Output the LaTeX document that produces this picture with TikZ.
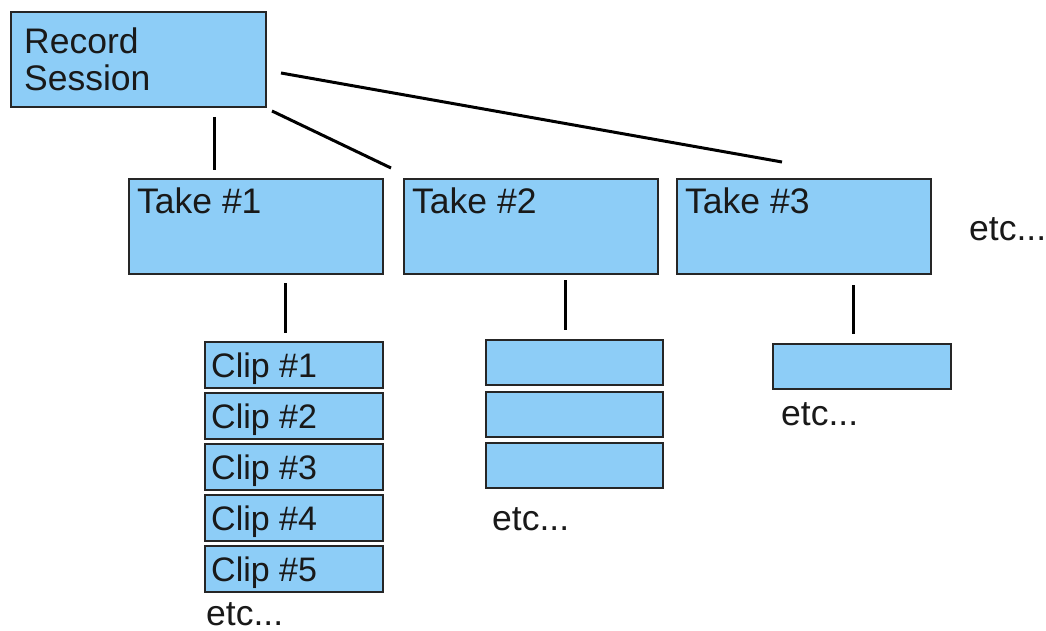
\documentclass[tikz,border=0pt]{standalone}
\usepackage{fontspec}
\setmainfont{Liberation Sans}
\begin{document}
\begin{tikzpicture}[x=1pt,y=-1pt,
  box/.style={draw=black!85,line width=1.6pt,fill=boxblue,inner sep=0pt,anchor=north west},
  lbl/.style={anchor=base west,inner sep=0pt,font=\fontsize{35.5}{38}\selectfont,text=black!90},
  clbl/.style={lbl,font=\fontsize{34}{38}\selectfont},
  conn/.style={line width=3pt,black}]
\definecolor{boxblue}{HTML}{8DCDF7}
\useasboundingbox (0,0) rectangle (1046,631);
% boxes
\node[box,minimum width=255pt,minimum height=95pt] (rs) at (10,11) {};
\node[box,minimum width=254pt,minimum height=95pt] (t1) at (128,178) {};
\node[box,minimum width=254pt,minimum height=95pt] (t2) at (403,178) {};
\node[box,minimum width=254pt,minimum height=95pt] (t3) at (676,178) {};
\foreach \n/\y in {1/341,2/392,3/443,4/494,5/545}
  \node[box,minimum width=178pt,minimum height=46pt] (c\n) at (204,\y) {};
\foreach \n/\y in {1/339,2/391,3/442}
  \node[box,minimum width=177pt,minimum height=45pt] (d\n) at (485,\y) {};
\node[box,minimum width=178pt,minimum height=45pt] (e1) at (772,343) {};
% texts
\node[lbl] (rst1) at (24,54) {Record};
\node[lbl] (rst2) at (24,91) {Session};
\node[lbl] (t1t) at (137,214) {Take \#1};
\node[lbl] (t2t) at (412,214) {Take \#2};
\node[lbl] (t3t) at (685,214) {Take \#3};
\foreach \n/\y in {1/377,2/428,3/479,4/530,5/581}
  \node[clbl] (c\n t) at (211,\y) {Clip \#\n};
\node[lbl] (etc0) at (969,240) {etc...};
\node[lbl] (etc1) at (206,625) {etc...};
\node[lbl] (etc2) at (492,530) {etc...};
\node[lbl] (etc3) at (781,425) {etc...};
% connectors (free-floating segments)
\coordinate (a1) at (214,117); \coordinate (a2) at (214,170);
\coordinate (b1) at (272,111); \coordinate (b2) at (391,168);
\coordinate (g1) at (281,73);  \coordinate (g2) at (782,162);
\coordinate (h1) at (285,283); \coordinate (h2) at (285,333);
\coordinate (i1) at (565,280); \coordinate (i2) at (565,330);
\coordinate (j1) at (853,285); \coordinate (j2) at (853,334);
\draw[conn] (a1) -- (a2);
\draw[conn] (b1) -- (b2);
\draw[conn] (g1) -- (g2);
\draw[conn] (h1) -- (h2);
\draw[conn] (i1) -- (i2);
\draw[conn] (j1) -- (j2);
\end{tikzpicture}
\end{document}
